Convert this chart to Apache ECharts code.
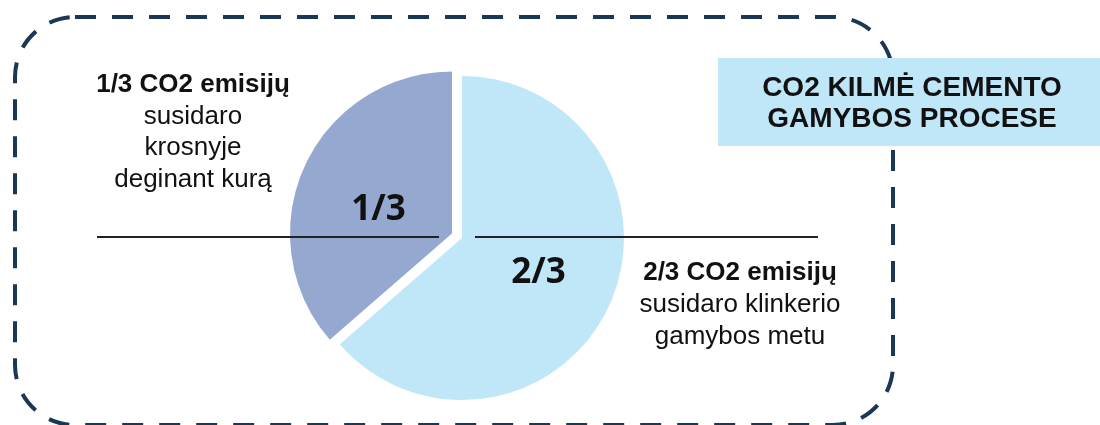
<!DOCTYPE html>
<html>
<head>
<meta charset="utf-8">
<title>CO2 kilmė cemento gamybos procese</title>
<script src="https://cdn.jsdelivr.net/npm/echarts@6/dist/echarts.min.js"></script>
<style>
  html, body { margin: 0; padding: 0; background: #fff; }
  #chart { width: 1100px; height: 425px; }
</style>
</head>
<body>
<div id="chart"></div>
<script>
// pie data (2/3 slice first, drawn clockwise from 12 o'clock)
const sliceNames = ['Klinkerio gamyba', 'Kuro deginimas'];
const sliceValues = [63.6, 36.4];
const sliceLabels = ['2/3', '1/3'];

// texts
const titleLines = ['CO2 KILMĖ CEMENTO', 'GAMYBOS PROCESE'];
const leftHead = '1/3 CO2 emisijų';
const leftLines = ['susidaro', 'krosnyje', 'deginant kurą'];
const rightHead = '2/3 CO2 emisijų';
const rightLines = ['susidaro klinkerio', 'gamybos metu'];

const FONT = '"Liberation Sans", Arial, sans-serif';
const navy = '#1b3756';
const blue = '#bfe7f7';
const grey = '#95a9d0';

const chart = echarts.init(document.getElementById('chart'));

// helper for a stack of centred text lines
const textBlock = (cx, cy0, step, head, lines) => {
  const out = [{
    type: 'text', z: 20,
    style: { text: head, x: cx, y: cy0, textAlign: 'center', textVerticalAlign: 'middle',
      font: 'bold 26px ' + FONT, fill: '#111' }
  }];
  lines.forEach((t, i) => {
    out.push({
      type: 'text', z: 20,
      style: { text: t, x: cx, y: cy0 + step * (i + 1), textAlign: 'center', textVerticalAlign: 'middle',
        font: '26px ' + FONT, fill: '#111' }
    });
  });
  return out;
};

const labelFont = { fontFamily: '"Open Sans", sans-serif', fontWeight: 'bold', fontSize: 35, color: '#111' };

const option = {
  animation: false,
  series: [{
    type: 'pie',
    center: [462, 238],
    radius: [0, 162],
    startAngle: 90,
    clockwise: true,
    selectedMode: 'single',
    selectedOffset: 11,
    label: {
      show: true,
      position: 'inside',
      // the 1/3 label sits a bit lower in the original
      formatter: p => (p.dataIndex === 1 ? '{low|' : '{n|') + sliceLabels[p.dataIndex] + '}',
      rich: {
        n: labelFont,
        low: Object.assign({ padding: [22, 0, 0, 6] }, labelFont)
      }
    },
    labelLine: { show: false },
    emphasis: { disabled: true },
    data: sliceNames.map((n, i) => ({
      name: n,
      value: sliceValues[i],
      selected: i === 1,
      itemStyle: { color: i === 0 ? blue : grey }
    }))
  }],
  graphic: [
    // dashed frame (bottom edge runs off the picture)
    {
      type: 'rect', z: 1,
      shape: { x: 15, y: 17, width: 878, height: 408, r: 60 },
      style: { fill: 'none', stroke: navy, lineWidth: 4, lineDash: [21, 16] }
    },
    // title box
    {
      type: 'rect', z: 10,
      shape: { x: 718, y: 58, width: 382, height: 88 },
      style: { fill: blue }
    },
    ...titleLines.map((t, i) => ({
      type: 'text', z: 11,
      style: { text: t, x: 912, y: 88 + i * 31.5, textAlign: 'center', textVerticalAlign: 'middle',
        font: 'bold 28px ' + FONT, fill: '#111' }
    })),
    // divider lines
    {
      type: 'line', z: 15,
      shape: { x1: 97, y1: 237, x2: 439, y2: 237 },
      style: { stroke: '#222', lineWidth: 2 }
    },
    {
      type: 'line', z: 15,
      shape: { x1: 475, y1: 237, x2: 818, y2: 237 },
      style: { stroke: '#222', lineWidth: 2 }
    },
    ...textBlock(193, 85, 31.5, leftHead, leftLines),
    ...textBlock(740, 273, 32, rightHead, rightLines)
  ]
};

chart.setOption(option);
</script>
</body>
</html>
